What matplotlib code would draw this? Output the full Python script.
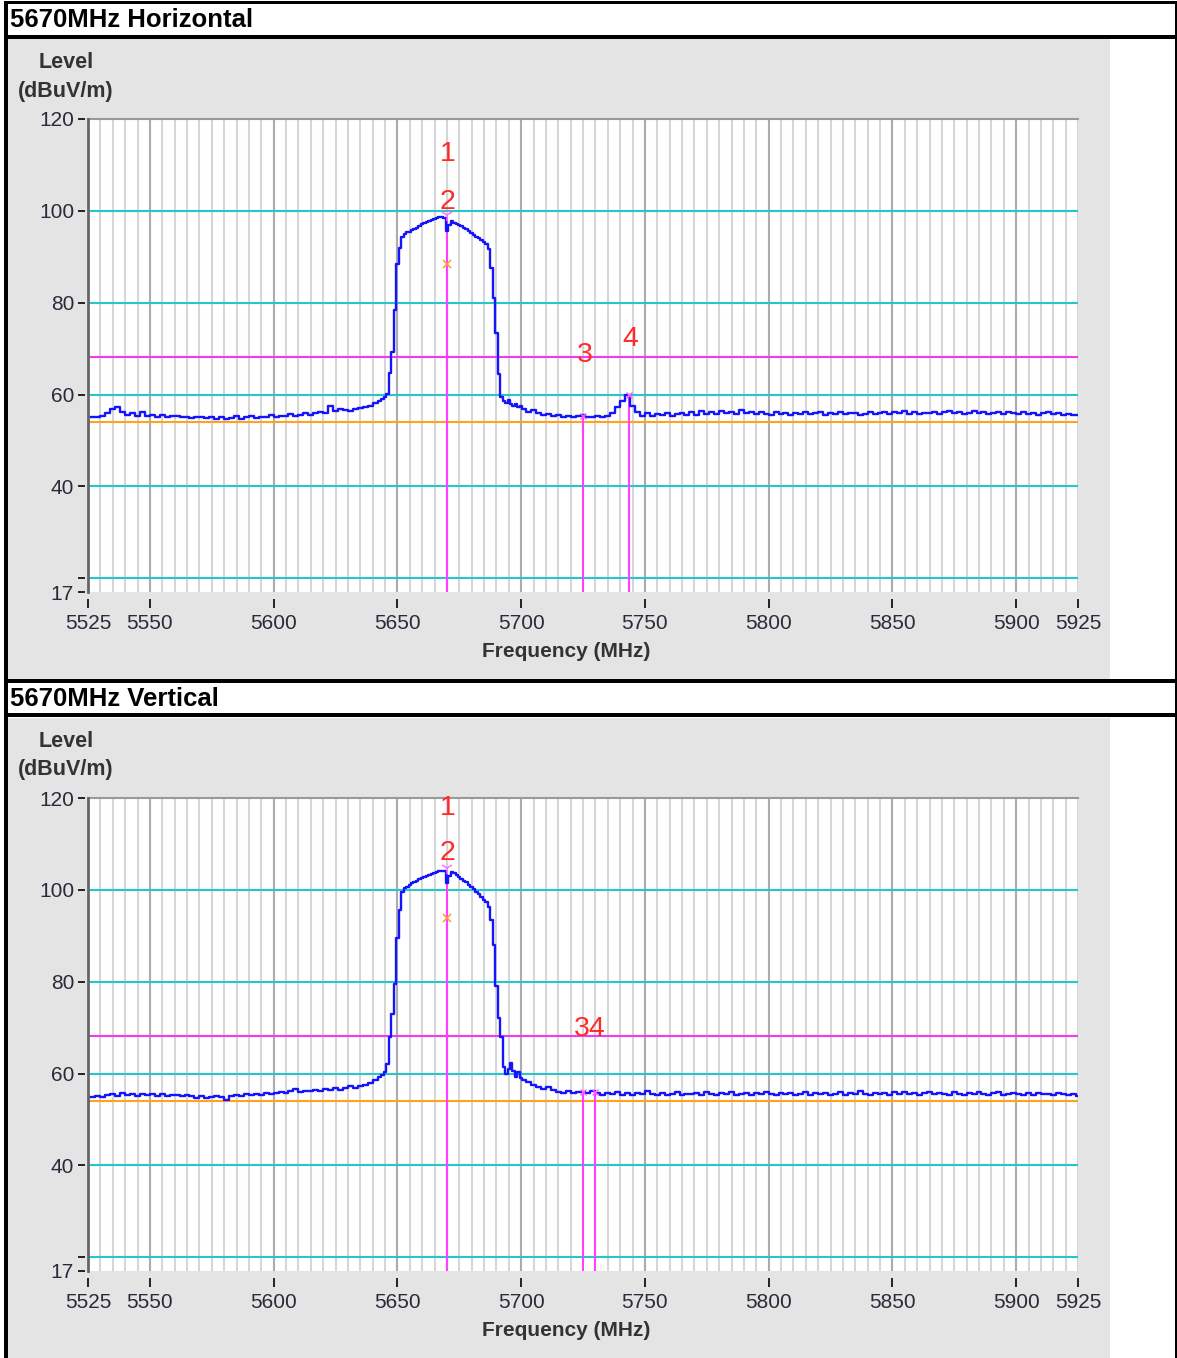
import numpy as np
import matplotlib
matplotlib.use('Agg')
import matplotlib.pyplot as plt
from matplotlib.patches import Rectangle

plt.rcParams['font.family'] = ['Liberation Sans', 'DejaVu Sans']

W, H = 1177, 1358

titles = ['5670MHz Horizontal', '5670MHz Vertical']
ylabel_lines = ['Level', '(dBuV/m)']
xlabel = 'Frequency (MHz)'

x_ticks = [5525, 5550, 5600, 5650, 5700, 5750, 5800, 5850, 5900, 5925]
y_ticks = [17, 20, 40, 60, 80, 100, 120]
y_tick_labels = ['17', '', '40', '60', '80', '100', '120']
grid_levels = [20, 40, 60, 80, 100]
peak_limit = 68.2
avg_limit = 54.0

# sample frequencies of the traces (MHz)
freq = np.concatenate([np.arange(5525, 5645, 2),
                       np.arange(5644, 5701, 1),
                       np.arange(5701, 5926, 2)])

level_h = [
    # 5525 .. 5643 (2 MHz)
    55.2, 55.0, 55.1, 55.4, 55.9, 56.8, 57.2, 56.2, 55.6, 55.9,
    55.4, 56.2, 55.3, 55.6, 55.2, 55.5, 55.1, 55.3, 55.4, 55.0,
    55.2, 54.9, 55.1, 55.0, 54.8, 55.1, 54.7, 55.0, 54.6, 54.9,
    55.3, 54.7, 55.0, 55.4, 54.8, 55.1, 55.0, 55.5, 55.2, 55.4,
    55.3, 55.8, 55.4, 55.6, 55.9, 55.5, 56.0, 56.3, 55.9, 57.6,
    56.4, 56.9, 56.6, 56.4, 56.8, 57.0, 57.3, 57.6, 58.2, 58.6,
    # 5644 .. 5700 (1 MHz)
    59.0, 59.4, 60.2, 64.6, 69.2, 78.3, 88.5, 92.0, 94.3, 95.0,
    95.3, 95.5, 95.9, 96.1, 96.3, 96.8, 97.1, 97.4, 97.6, 97.8,
    98.1, 98.3, 98.5, 98.6, 98.7, 98.5, 95.6, 97.0, 97.8, 97.4,
    97.1, 96.9, 96.6, 96.3, 96.0, 95.6, 95.1, 94.8, 94.4, 94.0,
    93.6, 93.2, 92.8, 91.8, 87.5, 81.0, 73.5, 64.5, 59.5, 58.6,
    58.2, 58.8, 58.0, 57.4, 57.9, 57.2, 57.6,
    # 5701 .. 5925 (2 MHz)
    56.8, 56.2, 56.6, 55.9, 55.6, 55.8, 55.3, 55.5, 55.2, 55.4,
    55.1, 55.3, 55.6, 55.2, 55.0, 55.3, 55.1, 55.4, 55.9, 57.2,
    58.6, 59.8, 57.4, 56.2, 55.4, 56.0, 55.3, 55.8, 55.5, 55.9,
    55.4, 55.7, 55.9, 55.5, 56.1, 55.6, 56.4, 55.8, 56.2, 55.7,
    56.5, 56.0, 56.3, 55.8, 56.6, 55.9, 56.1, 55.7, 56.2, 55.8,
    55.6, 56.1, 55.7, 55.9, 55.6, 56.0, 55.8, 56.2, 55.7, 55.9,
    56.1, 55.6, 55.9, 55.8, 56.2, 55.7, 55.9, 56.0, 55.6, 55.8,
    56.1, 55.7, 56.0, 56.3, 55.8, 56.2, 55.9, 56.4, 55.8, 56.1,
    55.7, 56.0, 55.9, 56.3, 55.8, 56.1, 56.4, 55.9, 56.2, 55.8,
    56.0, 56.5, 55.9, 56.2, 55.7, 56.0, 56.3, 55.8, 56.1, 55.9,
    55.7, 56.1, 55.8, 56.0, 55.6, 55.9, 56.1, 55.7, 55.9, 55.6,
    55.8, 55.5, 55.6,
]

level_v = [
    # 5525 .. 5643 (2 MHz)
    54.9, 54.8, 55.1, 54.9, 55.3, 55.6, 55.2, 55.7, 55.4, 55.6,
    55.2, 55.5, 55.3, 55.6, 55.2, 55.5, 55.1, 55.4, 55.3, 55.0,
    55.3, 55.1, 54.7, 55.0, 54.6, 54.9, 55.2, 54.8, 54.2, 55.1,
    55.4, 55.2, 55.5, 55.3, 55.6, 55.4, 55.8, 55.5, 55.7, 56.0,
    55.8, 56.1, 56.6, 56.0, 56.3, 56.1, 56.5, 56.2, 56.6, 56.4,
    56.8, 56.5, 56.9, 57.2, 56.9, 57.3, 57.6, 57.9, 58.6, 59.3,
    # 5644 .. 5700 (1 MHz)
    59.6, 60.4, 62.0, 67.9, 73.0, 79.6, 89.5, 95.6, 99.5, 100.3,
    100.7, 101.0, 101.4, 101.7, 102.0, 102.3, 102.6, 102.9, 103.1, 103.3,
    103.5, 103.6, 103.8, 104.0, 104.1, 104.0, 101.4, 103.0, 103.9, 103.6,
    103.2, 102.8, 102.4, 102.0, 101.6, 101.1, 100.6, 100.1, 99.5, 99.0,
    98.4, 97.8, 97.3, 96.2, 93.5, 88.0, 79.0, 72.2, 67.9, 61.5,
    60.0, 61.0, 62.2, 60.5, 59.2, 60.3, 59.0,
    # 5701 .. 5925 (2 MHz)
    58.6, 58.2, 57.5, 57.0, 56.6, 57.1, 56.4, 56.0, 55.8, 56.2,
    55.7, 55.9, 56.0, 55.8, 56.1, 55.7, 55.3, 55.8, 55.5, 55.9,
    55.4, 55.7, 55.3, 55.8, 55.5, 56.3, 55.6, 55.4, 55.7, 55.3,
    55.6, 55.9, 55.4, 55.6, 55.5, 55.8, 55.4, 55.9, 55.6, 55.3,
    55.7, 55.5, 55.9, 55.4, 55.6, 55.8, 55.3, 55.7, 55.5, 55.9,
    55.6, 55.4, 55.8, 55.5, 55.7, 55.3, 55.6, 55.9, 55.4, 55.7,
    55.5, 55.8, 55.3, 55.6, 55.9, 55.4, 55.7, 55.5, 56.1, 55.6,
    55.3, 55.8, 55.5, 55.7, 55.4, 55.9, 55.6, 56.0, 55.5, 55.8,
    55.4, 55.7, 56.0, 55.5, 55.8, 55.6, 55.3, 55.9, 55.6, 55.4,
    55.8, 55.5, 56.0, 55.6, 55.3, 55.7, 55.9, 55.4, 55.6, 55.8,
    55.5, 55.3, 55.7, 55.4, 55.8, 55.5, 55.6, 55.3, 55.7, 55.5,
    55.4, 55.6, 55.2,
]

# markers: frequency, level, kind ('avg' / 'peak')
marker_kind = ['avg', 'peak', 'peak', 'peak']
marker_freq_h = [5670.0, 5670.0, 5725.0, 5743.5]
marker_level_h = [88.4, 98.6, 55.4, 59.8]
marker_freq_v = [5670.0, 5670.0, 5725.0, 5730.0]
marker_level_v = [93.8, 104.2, 56.0, 56.0]
# red marker numbers (3 and 4 print on top of each other in the vertical scan)
label_text_h = ['1', '2', '3', '4']
label_x_h = [5670.3, 5670.3, 5725.8, 5744.0]
label_y_h = [112.4, 102.0, 68.7, 72.0]
label_text_v = ['1', '2', '34']
label_x_v = [5670.3, 5670.3, 5727.6]
label_y_v = [117.8, 108.0, 69.8]


def px_rect(fig, x0, y0, x1, y1, color, z=0):
    fig.add_artist(Rectangle((x0 / W, 1 - y1 / H), (x1 - x0) / W, (y1 - y0) / H,
                             transform=fig.transFigure, color=color, lw=0,
                             zorder=z))


def panel(fig, top, title, level, mfreq, mlevel, ltext, lx, ly):
    px_rect(fig, 8, top + 2, 1110, top + 642, '#e4e4e4')
    fig.text(10 / W, 1 - (top - 17) / H, title, fontsize=18.5, fontweight='bold',
             ha='left', va='center', color='black')
    fig.text(66 / W, 1 - (top + 26) / H, ylabel_lines[0], fontsize=15.5,
             fontweight='bold', ha='center', va='center', color='#333333')
    fig.text(66 / W, 1 - (top + 54) / H, ylabel_lines[1], fontsize=15.5,
             fontweight='bold', ha='center', va='center', color='#333333')
    fig.text(566 / W, 1 - (top + 614) / H, xlabel, fontsize=15,
             fontweight='bold', ha='center', va='center', color='#333333')

    ax = fig.add_axes([88 / W, 1 - (top + 555) / H, 990 / W, 473 / H])
    ax.set_facecolor('white')
    ax.set_xlim(5525, 5925)
    ax.set_ylim(17, 120)

    ax.vlines(np.arange(5530, 5926, 5), 17, 120, color='#d6d6d6', lw=1.5, zorder=0.5)
    ax.vlines(np.arange(5550, 5901, 50), 17, 120, color='#acacac', lw=1.5, zorder=0.6)
    for g in grid_levels:
        ax.axhline(g, color='#26c6cc', lw=1.5, zorder=1)
    ax.axhline(peak_limit, color='#f03cf0', lw=1.5, zorder=1.2)
    ax.axhline(avg_limit, color='#ffa21c', lw=1.5, zorder=1.2)

    for i in range(len(mfreq)):
        ax.vlines(mfreq[i], 17, mlevel[i], color='#ff40ff', lw=1.5, zorder=1.5)

    ax.plot(freq, level, color='#1414ff', lw=1.7, drawstyle='steps-mid', zorder=2)

    for i in range(len(mfreq)):
        if marker_kind[i] == 'avg':
            ax.plot(mfreq[i], mlevel[i], marker='x', ms=6, mew=1.1,
                    color='#ff9a30', zorder=3)
        elif i == 1:
            ax.plot(mfreq[i], mlevel[i] + 0.6, marker='1', ms=9, mew=1.1,
                    color='#ff70ff', zorder=3)
        else:
            ax.plot(mfreq[i], mlevel[i], marker='x', ms=5, mew=1.0,
                    color='#ff60ff', zorder=3)
    for t, x, y in zip(ltext, lx, ly):
        ax.text(x, y, t, color='#ff2a2a', fontsize=20.5, ha='center',
                va='center', zorder=4)

    # left border drawn as a line so the ticks can sit off the axis
    ax.axvline(5525, color='#666666', lw=2, zorder=5, clip_on=False)
    for s in ['left', 'bottom', 'right']:
        ax.spines[s].set_visible(False)
    ax.spines['left'].set_position(('outward', 2))
    ax.spines['bottom'].set_position(('outward', 5))
    ax.spines['top'].set_color('#999999')
    ax.spines['top'].set_linewidth(1.5)

    ax.set_xticks(x_ticks)
    ax.set_xticklabels([str(t) for t in x_ticks])
    ax.set_yticks(y_ticks)
    ax.set_yticklabels(y_tick_labels)
    ax.tick_params(axis='x', length=6.5, width=1.4, color='#222222', pad=4,
                   labelsize=15, labelcolor='#2a2a3a')
    ax.tick_params(axis='y', length=5, width=1.4, color='#222222', pad=3,
                   labelsize=15, labelcolor='#2a2a3a')
    return ax


def main():
    fig = plt.figure(figsize=(W / 100, H / 100), dpi=100)
    fig.patch.set_facecolor('white')

    # black frame and header rules
    px_rect(fig, 4, 1, 1177, 4, 'black', 1)
    px_rect(fig, 4, 1, 8, H, 'black', 1)
    px_rect(fig, 1175, 1, 1177, H, 'black', 1)
    px_rect(fig, 4, 35, 1177, 39, 'black', 1)
    px_rect(fig, 4, 679, 1177, 683, 'black', 1)
    px_rect(fig, 4, 713, 1177, 717, 'black', 1)

    panel(fig, 37, titles[0], level_h, marker_freq_h, marker_level_h,
          label_text_h, label_x_h, label_y_h)
    panel(fig, 716, titles[1], level_v, marker_freq_v, marker_level_v,
          label_text_v, label_x_v, label_y_v)

    fig.savefig('out.png', dpi=100)


if __name__ == '__main__':
    main()
